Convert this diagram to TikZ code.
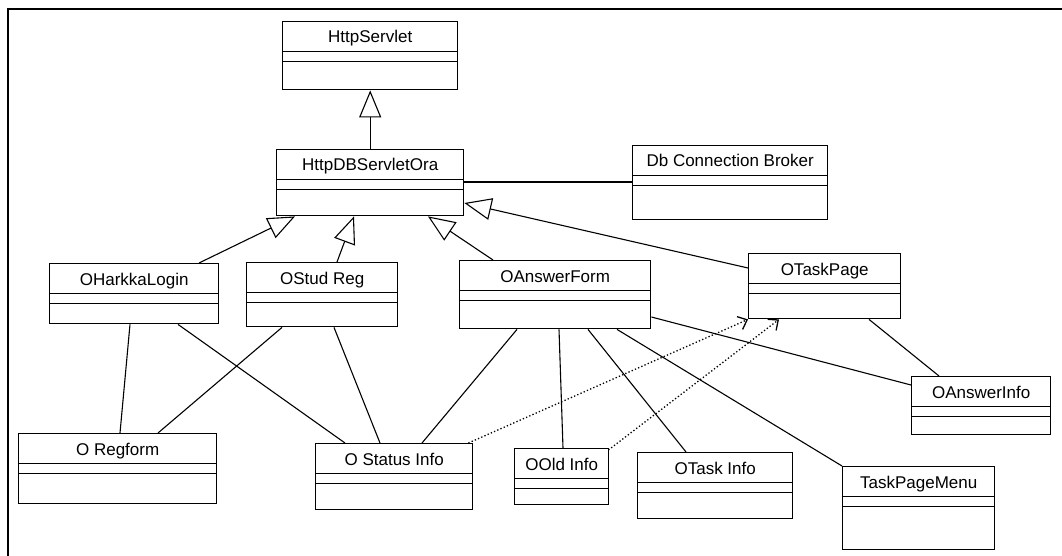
\documentclass[tikz,border=0pt]{standalone}
\usepackage{fontspec}
\setmainfont{Liberation Sans}
\usetikzlibrary{arrows.meta,positioning}

\begin{document}
\begin{tikzpicture}[
  x=1pt, y=-1pt,
  umlclass/.style={draw, line width=1.4pt, anchor=north west, inner sep=0pt,
    path picture={
      \draw[line width=1.4pt] ([yshift=-30pt]path picture bounding box.north west) -- ([yshift=-30pt]path picture bounding box.north east);
      \draw[line width=1.4pt] ([yshift=-40pt]path picture bounding box.north west) -- ([yshift=-40pt]path picture bounding box.north east);}},
  clsname/.style={anchor=base, yshift=-22pt, inner sep=0pt, font=\fontsize{17}{18}\selectfont},
  inherit/.style={-{Triangle[open, length=27pt, width=22pt]}, line width=1.1pt},
  assoc/.style={line width=1.1pt},
  depend/.style={-{Straight Barb[length=8pt, width=14pt]}, line width=1.3pt, dash pattern=on 1.3pt off 2.2pt}
]
\useasboundingbox (0,0) rectangle (1062,556);
\draw[line width=2.5pt] (8,556) -- (8,9) -- (1062,9);

% classes
\node[umlclass, minimum width=175pt, minimum height=68pt, label={[clsname]north:HttpServlet}] (servlet) at (282,21) {};
\node[umlclass, minimum width=187pt, minimum height=66pt, label={[clsname]north:HttpDBServletOra}] (dbora) at (276,149) {};
\node[umlclass, minimum width=195pt, minimum height=74pt, label={[clsname]north:Db Connection Broker}] (broker) at (632,145) {};
\node[umlclass, minimum width=152pt, minimum height=65pt, label={[clsname]north:OTaskPage}] (taskpage) at (748,253) {};
\node[umlclass, minimum width=169pt, minimum height=60pt, label={[clsname]north:OHarkkaLogin}] (harkka) at (49,263) {};
\node[umlclass, minimum width=151pt, minimum height=64pt, label={[clsname]north:OStud Reg}] (studreg) at (246,262) {};
\node[umlclass, minimum width=191pt, minimum height=68pt, label={[clsname]north:OAnswerForm}] (ansform) at (459,260) {};
\node[umlclass, minimum width=139pt, minimum height=58pt, label={[clsname]north:OAnswerInfo}] (ansinfo) at (911,376) {};
\node[umlclass, minimum width=152pt, minimum height=83pt, label={[clsname]north:TaskPageMenu}] (menu) at (842,466) {};
\node[umlclass, minimum width=155pt, minimum height=66pt, label={[clsname]north:OTask Info}] (taskinfo) at (637,452) {};
\node[umlclass, minimum width=94pt, minimum height=56pt, label={[clsname]north:OOld Info}] (oldinfo) at (514,448) {};
\node[umlclass, minimum width=157pt, minimum height=66pt, label={[clsname]north:O Status Info}] (status) at (315,443) {};
\node[umlclass, minimum width=198pt, minimum height=70pt, label={[clsname]north:O Regform}] (regform) at (18,433) {};

% generalisations
\draw[inherit] (dbora.north) -- (servlet.south);
\draw[inherit] ([xshift=150pt]harkka.north west) -- ([xshift=19pt]dbora.south west);
\draw[inherit] ([xshift=91pt]studreg.north west) -- ([xshift=78pt]dbora.south west);
\draw[inherit] ([xshift=34pt]ansform.north west) -- ([xshift=152pt]dbora.south west);
\draw[inherit] ([yshift=-15pt]taskpage.north west) -- ([yshift=-54pt]dbora.north east);

% associations
\draw[assoc] ([yshift=-33pt]dbora.north east) -- ([yshift=-37pt]broker.north west);
\draw[assoc] ([xshift=81pt]harkka.south west) -- ([xshift=102pt]regform.north west);
\draw[assoc] ([xshift=129pt]harkka.south west) -- ([xshift=30pt]status.north west);
\draw[assoc] ([xshift=36pt]studreg.south west) -- ([xshift=140pt]regform.north west);
\draw[assoc] ([xshift=88pt]studreg.south west) -- ([xshift=65pt]status.north west);
\draw[assoc] ([xshift=58pt]ansform.south west) -- ([xshift=107pt]status.north west);
\draw[assoc] ([xshift=100pt]ansform.south west) -- ([xshift=49pt]oldinfo.north west);
\draw[assoc] ([xshift=129pt]ansform.south west) -- ([xshift=49pt]taskinfo.north west);
\draw[assoc] ([xshift=158pt]ansform.south west) -- (menu.north west);
\draw[assoc] ([yshift=-57pt]ansform.north east) -- ([yshift=-9pt]ansinfo.north west);
\draw[assoc] ([xshift=121pt]taskpage.south west) -- ([xshift=28pt]ansinfo.north west);

% dependencies
\draw[depend] ([xshift=-5pt]status.north east) -- (taskpage.south west);
\draw[depend] ([xshift=-1pt, yshift=-2pt]oldinfo.north east) -- ([xshift=31pt]taskpage.south west);
\end{tikzpicture}
\end{document}
